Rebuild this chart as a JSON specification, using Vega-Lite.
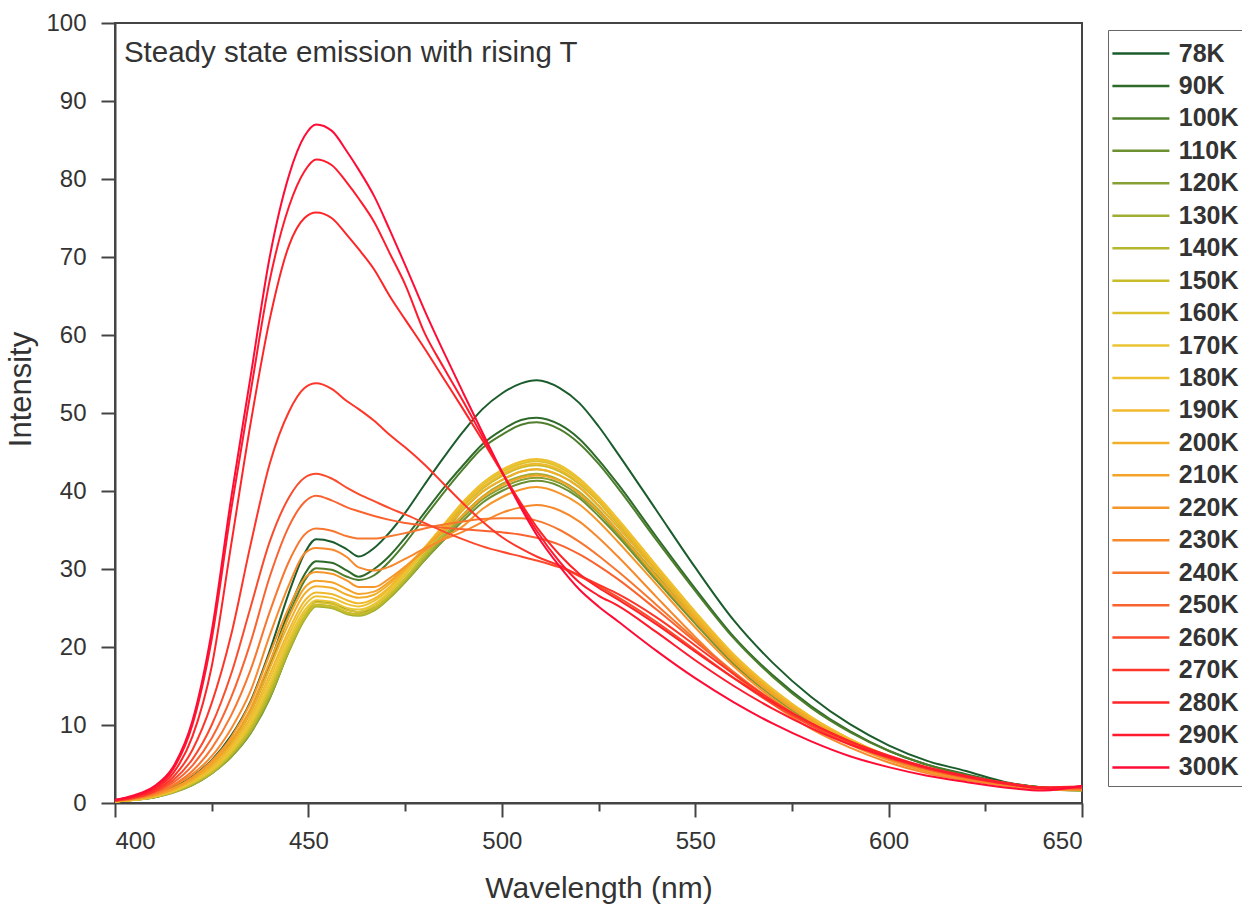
{
"$schema":"https://vega.github.io/schema/vega-lite/v6.json",
"width":967,"height":780,
"autosize":{"type":"none"},
"padding":{"left":115,"top":23,"right":160,"bottom":101},
"background":"white",
"config":{"view":{"stroke":"#444","strokeWidth":2},"font":"Liberation Sans"},
"data":{"values":[
{"s":"78K","x":400,"y":0.3},{"s":"78K","x":405,"y":0.5},{"s":"78K","x":410,"y":1.0},{"s":"78K","x":415,"y":2.0},{"s":"78K","x":420,"y":3.4},{"s":"78K","x":425,"y":5.5},{"s":"78K","x":430,"y":8.6},{"s":"78K","x":435,"y":13.0},{"s":"78K","x":440,"y":19.5},{"s":"78K","x":445,"y":27.0},{"s":"78K","x":449,"y":32.0},{"s":"78K","x":452,"y":33.8},{"s":"78K","x":456,"y":33.5},{"s":"78K","x":460,"y":32.5},{"s":"78K","x":463,"y":31.6},{"s":"78K","x":467,"y":32.7},{"s":"78K","x":471,"y":34.7},{"s":"78K","x":475,"y":37.2},{"s":"78K","x":480,"y":40.8},{"s":"78K","x":485,"y":44.3},{"s":"78K","x":490,"y":47.6},{"s":"78K","x":495,"y":50.5},{"s":"78K","x":500,"y":52.5},{"s":"78K","x":505,"y":53.8},{"s":"78K","x":509,"y":54.2},{"s":"78K","x":515,"y":53.2},{"s":"78K","x":520,"y":51.3},{"s":"78K","x":525,"y":48.3},{"s":"78K","x":530,"y":44.8},{"s":"78K","x":540,"y":37.5},{"s":"78K","x":550,"y":30.2},{"s":"78K","x":560,"y":23.4},{"s":"78K","x":570,"y":18.0},{"s":"78K","x":580,"y":13.6},{"s":"78K","x":590,"y":10.1},{"s":"78K","x":600,"y":7.4},{"s":"78K","x":610,"y":5.4},{"s":"78K","x":620,"y":4.1},{"s":"78K","x":630,"y":2.7},{"s":"78K","x":640,"y":2.0},{"s":"78K","x":650,"y":1.8},
{"s":"90K","x":400,"y":0.2},{"s":"90K","x":405,"y":0.5},{"s":"90K","x":410,"y":1.0},{"s":"90K","x":415,"y":1.8},{"s":"90K","x":420,"y":3.1},{"s":"90K","x":425,"y":5.0},{"s":"90K","x":430,"y":7.9},{"s":"90K","x":435,"y":11.9},{"s":"90K","x":440,"y":17.9},{"s":"90K","x":445,"y":24.8},{"s":"90K","x":449,"y":29.3},{"s":"90K","x":452,"y":31.0},{"s":"90K","x":456,"y":30.8},{"s":"90K","x":460,"y":29.8},{"s":"90K","x":463,"y":29.0},{"s":"90K","x":467,"y":30.0},{"s":"90K","x":471,"y":31.7},{"s":"90K","x":475,"y":34.0},{"s":"90K","x":480,"y":37.2},{"s":"90K","x":485,"y":40.4},{"s":"90K","x":490,"y":43.3},{"s":"90K","x":495,"y":46.0},{"s":"90K","x":500,"y":47.8},{"s":"90K","x":505,"y":49.1},{"s":"90K","x":509,"y":49.4},{"s":"90K","x":515,"y":48.5},{"s":"90K","x":520,"y":46.7},{"s":"90K","x":525,"y":44.0},{"s":"90K","x":530,"y":40.9},{"s":"90K","x":540,"y":34.1},{"s":"90K","x":550,"y":27.5},{"s":"90K","x":560,"y":21.3},{"s":"90K","x":570,"y":16.4},{"s":"90K","x":580,"y":12.4},{"s":"90K","x":590,"y":9.2},{"s":"90K","x":600,"y":6.7},{"s":"90K","x":610,"y":4.9},{"s":"90K","x":620,"y":3.7},{"s":"90K","x":630,"y":2.6},{"s":"90K","x":640,"y":2.0},{"s":"90K","x":650,"y":1.8},
{"s":"100K","x":400,"y":0.2},{"s":"100K","x":405,"y":0.5},{"s":"100K","x":410,"y":0.9},{"s":"100K","x":415,"y":1.7},{"s":"100K","x":420,"y":3.0},{"s":"100K","x":425,"y":4.9},{"s":"100K","x":430,"y":7.6},{"s":"100K","x":435,"y":11.6},{"s":"100K","x":440,"y":17.4},{"s":"100K","x":445,"y":24.1},{"s":"100K","x":449,"y":28.5},{"s":"100K","x":452,"y":30.1},{"s":"100K","x":456,"y":29.9},{"s":"100K","x":460,"y":29.0},{"s":"100K","x":463,"y":28.6},{"s":"100K","x":467,"y":29.2},{"s":"100K","x":471,"y":31.0},{"s":"100K","x":475,"y":33.3},{"s":"100K","x":480,"y":36.6},{"s":"100K","x":485,"y":39.8},{"s":"100K","x":490,"y":42.8},{"s":"100K","x":495,"y":45.5},{"s":"100K","x":500,"y":47.2},{"s":"100K","x":505,"y":48.5},{"s":"100K","x":509,"y":48.8},{"s":"100K","x":515,"y":47.9},{"s":"100K","x":520,"y":46.1},{"s":"100K","x":525,"y":43.5},{"s":"100K","x":530,"y":40.4},{"s":"100K","x":540,"y":33.7},{"s":"100K","x":550,"y":27.2},{"s":"100K","x":560,"y":21.1},{"s":"100K","x":570,"y":16.2},{"s":"100K","x":580,"y":12.2},{"s":"100K","x":590,"y":9.1},{"s":"100K","x":600,"y":6.7},{"s":"100K","x":610,"y":4.9},{"s":"100K","x":620,"y":3.6},{"s":"100K","x":630,"y":2.6},{"s":"100K","x":640,"y":2.0},{"s":"100K","x":650,"y":1.8},
{"s":"110K","x":400,"y":0.2},{"s":"110K","x":405,"y":0.4},{"s":"110K","x":410,"y":0.7},{"s":"110K","x":415,"y":1.4},{"s":"110K","x":420,"y":2.3},{"s":"110K","x":425,"y":3.8},{"s":"110K","x":430,"y":5.9},{"s":"110K","x":435,"y":8.9},{"s":"110K","x":440,"y":13.4},{"s":"110K","x":445,"y":19.6},{"s":"110K","x":449,"y":23.8},{"s":"110K","x":452,"y":25.8},{"s":"110K","x":456,"y":25.6},{"s":"110K","x":460,"y":24.8},{"s":"110K","x":463,"y":24.5},{"s":"110K","x":467,"y":25.0},{"s":"110K","x":471,"y":26.5},{"s":"110K","x":475,"y":28.4},{"s":"110K","x":480,"y":31.1},{"s":"110K","x":485,"y":33.7},{"s":"110K","x":490,"y":36.2},{"s":"110K","x":495,"y":38.5},{"s":"110K","x":500,"y":40.0},{"s":"110K","x":505,"y":41.0},{"s":"110K","x":509,"y":41.3},{"s":"110K","x":515,"y":40.6},{"s":"110K","x":520,"y":39.1},{"s":"110K","x":525,"y":36.8},{"s":"110K","x":530,"y":34.2},{"s":"110K","x":540,"y":28.5},{"s":"110K","x":550,"y":23.0},{"s":"110K","x":560,"y":17.8},{"s":"110K","x":570,"y":13.7},{"s":"110K","x":580,"y":10.3},{"s":"110K","x":590,"y":7.7},{"s":"110K","x":600,"y":5.6},{"s":"110K","x":610,"y":4.1},{"s":"110K","x":620,"y":3.1},{"s":"110K","x":630,"y":2.3},{"s":"110K","x":640,"y":1.8},{"s":"110K","x":650,"y":1.6},
{"s":"120K","x":400,"y":0.2},{"s":"120K","x":405,"y":0.4},{"s":"120K","x":410,"y":0.7},{"s":"120K","x":415,"y":1.3},{"s":"120K","x":420,"y":2.3},{"s":"120K","x":425,"y":3.8},{"s":"120K","x":430,"y":5.9},{"s":"120K","x":435,"y":9.0},{"s":"120K","x":440,"y":13.5},{"s":"120K","x":445,"y":19.5},{"s":"120K","x":449,"y":23.6},{"s":"120K","x":452,"y":25.4},{"s":"120K","x":456,"y":25.2},{"s":"120K","x":460,"y":24.4},{"s":"120K","x":463,"y":24.2},{"s":"120K","x":467,"y":24.7},{"s":"120K","x":471,"y":26.3},{"s":"120K","x":475,"y":28.3},{"s":"120K","x":480,"y":31.1},{"s":"120K","x":485,"y":33.9},{"s":"120K","x":490,"y":36.6},{"s":"120K","x":495,"y":38.9},{"s":"120K","x":500,"y":40.4},{"s":"120K","x":505,"y":41.4},{"s":"120K","x":509,"y":41.7},{"s":"120K","x":515,"y":41.0},{"s":"120K","x":520,"y":39.4},{"s":"120K","x":525,"y":37.2},{"s":"120K","x":530,"y":34.5},{"s":"120K","x":540,"y":28.8},{"s":"120K","x":550,"y":23.2},{"s":"120K","x":560,"y":18.0},{"s":"120K","x":570,"y":13.8},{"s":"120K","x":580,"y":10.4},{"s":"120K","x":590,"y":7.8},{"s":"120K","x":600,"y":5.7},{"s":"120K","x":610,"y":4.2},{"s":"120K","x":620,"y":3.1},{"s":"120K","x":630,"y":2.4},{"s":"120K","x":640,"y":1.8},{"s":"120K","x":650,"y":1.6},
{"s":"130K","x":400,"y":0.2},{"s":"130K","x":405,"y":0.4},{"s":"130K","x":410,"y":0.7},{"s":"130K","x":415,"y":1.4},{"s":"130K","x":420,"y":2.4},{"s":"130K","x":425,"y":3.8},{"s":"130K","x":430,"y":6.0},{"s":"130K","x":435,"y":9.1},{"s":"130K","x":440,"y":13.7},{"s":"130K","x":445,"y":19.5},{"s":"130K","x":449,"y":23.5},{"s":"130K","x":452,"y":25.2},{"s":"130K","x":456,"y":25.0},{"s":"130K","x":460,"y":24.2},{"s":"130K","x":463,"y":24.0},{"s":"130K","x":467,"y":24.7},{"s":"130K","x":471,"y":26.3},{"s":"130K","x":475,"y":28.4},{"s":"130K","x":480,"y":31.3},{"s":"130K","x":485,"y":34.2},{"s":"130K","x":490,"y":37.0},{"s":"130K","x":495,"y":39.3},{"s":"130K","x":500,"y":40.9},{"s":"130K","x":505,"y":41.9},{"s":"130K","x":509,"y":42.2},{"s":"130K","x":515,"y":41.4},{"s":"130K","x":520,"y":39.9},{"s":"130K","x":525,"y":37.6},{"s":"130K","x":530,"y":34.9},{"s":"130K","x":540,"y":29.2},{"s":"130K","x":550,"y":23.5},{"s":"130K","x":560,"y":18.2},{"s":"130K","x":570,"y":14.0},{"s":"130K","x":580,"y":10.5},{"s":"130K","x":590,"y":7.9},{"s":"130K","x":600,"y":5.8},{"s":"130K","x":610,"y":4.2},{"s":"130K","x":620,"y":3.2},{"s":"130K","x":630,"y":2.4},{"s":"130K","x":640,"y":1.8},{"s":"130K","x":650,"y":1.6},
{"s":"140K","x":400,"y":0.2},{"s":"140K","x":405,"y":0.4},{"s":"140K","x":410,"y":0.8},{"s":"140K","x":415,"y":1.4},{"s":"140K","x":420,"y":2.4},{"s":"140K","x":425,"y":3.9},{"s":"140K","x":430,"y":6.2},{"s":"140K","x":435,"y":9.3},{"s":"140K","x":440,"y":14.0},{"s":"140K","x":445,"y":19.8},{"s":"140K","x":449,"y":23.7},{"s":"140K","x":452,"y":25.3},{"s":"140K","x":456,"y":25.1},{"s":"140K","x":460,"y":24.3},{"s":"140K","x":463,"y":24.1},{"s":"140K","x":467,"y":24.8},{"s":"140K","x":471,"y":26.5},{"s":"140K","x":475,"y":28.6},{"s":"140K","x":480,"y":31.6},{"s":"140K","x":485,"y":34.6},{"s":"140K","x":490,"y":37.6},{"s":"140K","x":495,"y":39.9},{"s":"140K","x":500,"y":41.4},{"s":"140K","x":505,"y":42.5},{"s":"140K","x":509,"y":42.8},{"s":"140K","x":515,"y":42.0},{"s":"140K","x":520,"y":40.5},{"s":"140K","x":525,"y":38.1},{"s":"140K","x":530,"y":35.4},{"s":"140K","x":540,"y":29.6},{"s":"140K","x":550,"y":23.8},{"s":"140K","x":560,"y":18.5},{"s":"140K","x":570,"y":14.2},{"s":"140K","x":580,"y":10.7},{"s":"140K","x":590,"y":8.0},{"s":"140K","x":600,"y":5.8},{"s":"140K","x":610,"y":4.3},{"s":"140K","x":620,"y":3.2},{"s":"140K","x":630,"y":2.4},{"s":"140K","x":640,"y":1.8},{"s":"140K","x":650,"y":1.7},
{"s":"150K","x":400,"y":0.2},{"s":"150K","x":405,"y":0.4},{"s":"150K","x":410,"y":0.8},{"s":"150K","x":415,"y":1.4},{"s":"150K","x":420,"y":2.5},{"s":"150K","x":425,"y":4.0},{"s":"150K","x":430,"y":6.3},{"s":"150K","x":435,"y":9.6},{"s":"150K","x":440,"y":14.4},{"s":"150K","x":445,"y":20.1},{"s":"150K","x":449,"y":23.9},{"s":"150K","x":452,"y":25.4},{"s":"150K","x":456,"y":25.2},{"s":"150K","x":460,"y":24.4},{"s":"150K","x":463,"y":24.2},{"s":"150K","x":467,"y":25.0},{"s":"150K","x":471,"y":26.7},{"s":"150K","x":475,"y":28.8},{"s":"150K","x":480,"y":31.9},{"s":"150K","x":485,"y":35.0},{"s":"150K","x":490,"y":38.0},{"s":"150K","x":495,"y":40.3},{"s":"150K","x":500,"y":41.9},{"s":"150K","x":505,"y":43.0},{"s":"150K","x":509,"y":43.3},{"s":"150K","x":515,"y":42.5},{"s":"150K","x":520,"y":40.9},{"s":"150K","x":525,"y":38.6},{"s":"150K","x":530,"y":35.8},{"s":"150K","x":540,"y":29.9},{"s":"150K","x":550,"y":24.1},{"s":"150K","x":560,"y":18.7},{"s":"150K","x":570,"y":14.4},{"s":"150K","x":580,"y":10.8},{"s":"150K","x":590,"y":8.1},{"s":"150K","x":600,"y":5.9},{"s":"150K","x":610,"y":4.3},{"s":"150K","x":620,"y":3.2},{"s":"150K","x":630,"y":2.5},{"s":"150K","x":640,"y":1.9},{"s":"150K","x":650,"y":1.7},
{"s":"160K","x":400,"y":0.2},{"s":"160K","x":405,"y":0.4},{"s":"160K","x":410,"y":0.8},{"s":"160K","x":415,"y":1.5},{"s":"160K","x":420,"y":2.6},{"s":"160K","x":425,"y":4.1},{"s":"160K","x":430,"y":6.5},{"s":"160K","x":435,"y":9.9},{"s":"160K","x":440,"y":14.8},{"s":"160K","x":445,"y":20.6},{"s":"160K","x":449,"y":24.3},{"s":"160K","x":452,"y":25.7},{"s":"160K","x":456,"y":25.5},{"s":"160K","x":460,"y":24.7},{"s":"160K","x":463,"y":24.5},{"s":"160K","x":467,"y":25.3},{"s":"160K","x":471,"y":27.0},{"s":"160K","x":475,"y":29.2},{"s":"160K","x":480,"y":32.3},{"s":"160K","x":485,"y":35.4},{"s":"160K","x":490,"y":38.4},{"s":"160K","x":495,"y":40.8},{"s":"160K","x":500,"y":42.4},{"s":"160K","x":505,"y":43.5},{"s":"160K","x":509,"y":43.8},{"s":"160K","x":515,"y":43.0},{"s":"160K","x":520,"y":41.4},{"s":"160K","x":525,"y":39.0},{"s":"160K","x":530,"y":36.2},{"s":"160K","x":540,"y":30.2},{"s":"160K","x":550,"y":24.4},{"s":"160K","x":560,"y":18.9},{"s":"160K","x":570,"y":14.5},{"s":"160K","x":580,"y":10.9},{"s":"160K","x":590,"y":8.2},{"s":"160K","x":600,"y":6.0},{"s":"160K","x":610,"y":4.4},{"s":"160K","x":620,"y":3.3},{"s":"160K","x":630,"y":2.5},{"s":"160K","x":640,"y":1.9},{"s":"160K","x":650,"y":1.7},
{"s":"170K","x":400,"y":0.2},{"s":"170K","x":405,"y":0.4},{"s":"170K","x":410,"y":0.8},{"s":"170K","x":415,"y":1.5},{"s":"170K","x":420,"y":2.7},{"s":"170K","x":425,"y":4.3},{"s":"170K","x":430,"y":6.7},{"s":"170K","x":435,"y":10.2},{"s":"170K","x":440,"y":15.3},{"s":"170K","x":445,"y":21.0},{"s":"170K","x":449,"y":24.7},{"s":"170K","x":452,"y":26.0},{"s":"170K","x":456,"y":25.8},{"s":"170K","x":460,"y":25.0},{"s":"170K","x":463,"y":24.8},{"s":"170K","x":467,"y":25.5},{"s":"170K","x":471,"y":27.2},{"s":"170K","x":475,"y":29.4},{"s":"170K","x":480,"y":32.5},{"s":"170K","x":485,"y":35.6},{"s":"170K","x":490,"y":38.6},{"s":"170K","x":495,"y":41.0},{"s":"170K","x":500,"y":42.6},{"s":"170K","x":505,"y":43.7},{"s":"170K","x":509,"y":44.0},{"s":"170K","x":515,"y":43.2},{"s":"170K","x":520,"y":41.6},{"s":"170K","x":525,"y":39.2},{"s":"170K","x":530,"y":36.4},{"s":"170K","x":540,"y":30.4},{"s":"170K","x":550,"y":24.5},{"s":"170K","x":560,"y":19.0},{"s":"170K","x":570,"y":14.6},{"s":"170K","x":580,"y":11.0},{"s":"170K","x":590,"y":8.2},{"s":"170K","x":600,"y":6.0},{"s":"170K","x":610,"y":4.4},{"s":"170K","x":620,"y":3.3},{"s":"170K","x":630,"y":2.5},{"s":"170K","x":640,"y":1.9},{"s":"170K","x":650,"y":1.7},
{"s":"180K","x":400,"y":0.2},{"s":"180K","x":405,"y":0.4},{"s":"180K","x":410,"y":0.8},{"s":"180K","x":415,"y":1.6},{"s":"180K","x":420,"y":2.8},{"s":"180K","x":425,"y":4.5},{"s":"180K","x":430,"y":7.0},{"s":"180K","x":435,"y":10.6},{"s":"180K","x":440,"y":15.9},{"s":"180K","x":445,"y":21.6},{"s":"180K","x":449,"y":25.3},{"s":"180K","x":452,"y":26.5},{"s":"180K","x":456,"y":26.3},{"s":"180K","x":460,"y":25.5},{"s":"180K","x":463,"y":25.2},{"s":"180K","x":467,"y":25.9},{"s":"180K","x":471,"y":27.5},{"s":"180K","x":475,"y":29.7},{"s":"180K","x":480,"y":32.7},{"s":"180K","x":485,"y":35.7},{"s":"180K","x":490,"y":38.6},{"s":"180K","x":495,"y":41.0},{"s":"180K","x":500,"y":42.7},{"s":"180K","x":505,"y":43.8},{"s":"180K","x":509,"y":44.1},{"s":"180K","x":515,"y":43.3},{"s":"180K","x":520,"y":41.6},{"s":"180K","x":525,"y":39.2},{"s":"180K","x":530,"y":36.4},{"s":"180K","x":540,"y":30.4},{"s":"180K","x":550,"y":24.5},{"s":"180K","x":560,"y":19.0},{"s":"180K","x":570,"y":14.6},{"s":"180K","x":580,"y":11.0},{"s":"180K","x":590,"y":8.2},{"s":"180K","x":600,"y":6.0},{"s":"180K","x":610,"y":4.4},{"s":"180K","x":620,"y":3.3},{"s":"180K","x":630,"y":2.5},{"s":"180K","x":640,"y":1.9},{"s":"180K","x":650,"y":1.7},
{"s":"190K","x":400,"y":0.2},{"s":"190K","x":405,"y":0.4},{"s":"190K","x":410,"y":0.9},{"s":"190K","x":415,"y":1.7},{"s":"190K","x":420,"y":2.9},{"s":"190K","x":425,"y":4.6},{"s":"190K","x":430,"y":7.3},{"s":"190K","x":435,"y":11.0},{"s":"190K","x":440,"y":16.5},{"s":"190K","x":445,"y":22.2},{"s":"190K","x":449,"y":25.9},{"s":"190K","x":452,"y":27.0},{"s":"190K","x":456,"y":26.8},{"s":"190K","x":460,"y":26.0},{"s":"190K","x":463,"y":25.6},{"s":"190K","x":467,"y":26.2},{"s":"190K","x":471,"y":27.7},{"s":"190K","x":475,"y":29.8},{"s":"190K","x":480,"y":32.7},{"s":"190K","x":485,"y":35.5},{"s":"190K","x":490,"y":38.2},{"s":"190K","x":495,"y":40.5},{"s":"190K","x":500,"y":42.1},{"s":"190K","x":505,"y":43.2},{"s":"190K","x":509,"y":43.5},{"s":"190K","x":515,"y":42.7},{"s":"190K","x":520,"y":41.1},{"s":"190K","x":525,"y":38.8},{"s":"190K","x":530,"y":36.0},{"s":"190K","x":540,"y":30.1},{"s":"190K","x":550,"y":24.2},{"s":"190K","x":560,"y":18.8},{"s":"190K","x":570,"y":14.4},{"s":"190K","x":580,"y":10.9},{"s":"190K","x":590,"y":8.1},{"s":"190K","x":600,"y":5.9},{"s":"190K","x":610,"y":4.4},{"s":"190K","x":620,"y":3.3},{"s":"190K","x":630,"y":2.5},{"s":"190K","x":640,"y":1.9},{"s":"190K","x":650,"y":1.7},
{"s":"200K","x":400,"y":0.2},{"s":"200K","x":405,"y":0.5},{"s":"200K","x":410,"y":0.9},{"s":"200K","x":415,"y":1.7},{"s":"200K","x":420,"y":3.0},{"s":"200K","x":425,"y":4.9},{"s":"200K","x":430,"y":7.6},{"s":"200K","x":435,"y":11.6},{"s":"200K","x":440,"y":17.3},{"s":"200K","x":445,"y":23.1},{"s":"200K","x":449,"y":26.8},{"s":"200K","x":452,"y":27.8},{"s":"200K","x":456,"y":27.6},{"s":"200K","x":460,"y":26.7},{"s":"200K","x":463,"y":26.3},{"s":"200K","x":467,"y":26.7},{"s":"200K","x":471,"y":28.1},{"s":"200K","x":475,"y":30.0},{"s":"200K","x":480,"y":32.7},{"s":"200K","x":485,"y":35.2},{"s":"200K","x":490,"y":37.6},{"s":"200K","x":495,"y":39.9},{"s":"200K","x":500,"y":41.4},{"s":"200K","x":505,"y":42.5},{"s":"200K","x":509,"y":42.8},{"s":"200K","x":515,"y":42.0},{"s":"200K","x":520,"y":40.5},{"s":"200K","x":525,"y":38.1},{"s":"200K","x":530,"y":35.4},{"s":"200K","x":540,"y":29.6},{"s":"200K","x":550,"y":23.8},{"s":"200K","x":560,"y":18.5},{"s":"200K","x":570,"y":14.2},{"s":"200K","x":580,"y":10.7},{"s":"200K","x":590,"y":8.0},{"s":"200K","x":600,"y":5.8},{"s":"200K","x":610,"y":4.3},{"s":"200K","x":620,"y":3.2},{"s":"200K","x":630,"y":2.4},{"s":"200K","x":640,"y":1.9},{"s":"200K","x":650,"y":1.7},
{"s":"210K","x":400,"y":0.2},{"s":"210K","x":405,"y":0.5},{"s":"210K","x":410,"y":1.0},{"s":"210K","x":415,"y":1.8},{"s":"210K","x":420,"y":3.1},{"s":"210K","x":425,"y":5.1},{"s":"210K","x":430,"y":8.0},{"s":"210K","x":435,"y":12.1},{"s":"210K","x":440,"y":18.1},{"s":"210K","x":445,"y":23.9},{"s":"210K","x":449,"y":27.6},{"s":"210K","x":452,"y":28.5},{"s":"210K","x":456,"y":28.3},{"s":"210K","x":460,"y":27.4},{"s":"210K","x":463,"y":26.8},{"s":"210K","x":467,"y":27.1},{"s":"210K","x":471,"y":28.4},{"s":"210K","x":475,"y":30.2},{"s":"210K","x":480,"y":32.6},{"s":"210K","x":485,"y":34.9},{"s":"210K","x":490,"y":36.9},{"s":"210K","x":495,"y":39.2},{"s":"210K","x":500,"y":40.7},{"s":"210K","x":505,"y":41.7},{"s":"210K","x":509,"y":42.0},{"s":"210K","x":515,"y":41.3},{"s":"210K","x":520,"y":39.7},{"s":"210K","x":525,"y":37.4},{"s":"210K","x":530,"y":34.8},{"s":"210K","x":540,"y":29.0},{"s":"210K","x":550,"y":23.4},{"s":"210K","x":560,"y":18.1},{"s":"210K","x":570,"y":13.9},{"s":"210K","x":580,"y":10.5},{"s":"210K","x":590,"y":7.8},{"s":"210K","x":600,"y":5.7},{"s":"210K","x":610,"y":4.2},{"s":"210K","x":620,"y":3.2},{"s":"210K","x":630,"y":2.4},{"s":"210K","x":640,"y":1.8},{"s":"210K","x":650,"y":1.7},
{"s":"220K","x":400,"y":0.3},{"s":"220K","x":405,"y":0.5},{"s":"220K","x":410,"y":1.0},{"s":"220K","x":415,"y":1.9},{"s":"220K","x":420,"y":3.3},{"s":"220K","x":425,"y":5.4},{"s":"220K","x":430,"y":8.4},{"s":"220K","x":435,"y":12.8},{"s":"220K","x":440,"y":19.1},{"s":"220K","x":445,"y":25.1},{"s":"220K","x":449,"y":28.8},{"s":"220K","x":452,"y":29.6},{"s":"220K","x":456,"y":29.4},{"s":"220K","x":460,"y":28.5},{"s":"220K","x":463,"y":27.7},{"s":"220K","x":467,"y":27.7},{"s":"220K","x":471,"y":28.8},{"s":"220K","x":475,"y":30.3},{"s":"220K","x":480,"y":32.3},{"s":"220K","x":485,"y":34.0},{"s":"220K","x":490,"y":35.5},{"s":"220K","x":495,"y":37.7},{"s":"220K","x":500,"y":39.2},{"s":"220K","x":505,"y":40.2},{"s":"220K","x":509,"y":40.5},{"s":"220K","x":515,"y":39.7},{"s":"220K","x":520,"y":38.3},{"s":"220K","x":525,"y":36.1},{"s":"220K","x":530,"y":33.5},{"s":"220K","x":540,"y":28.0},{"s":"220K","x":550,"y":22.5},{"s":"220K","x":560,"y":17.5},{"s":"220K","x":570,"y":13.4},{"s":"220K","x":580,"y":10.1},{"s":"220K","x":590,"y":7.5},{"s":"220K","x":600,"y":5.5},{"s":"220K","x":610,"y":4.0},{"s":"220K","x":620,"y":3.0},{"s":"220K","x":630,"y":2.3},{"s":"220K","x":640,"y":1.8},{"s":"220K","x":650,"y":1.7},
{"s":"230K","x":400,"y":0.3},{"s":"230K","x":405,"y":0.6},{"s":"230K","x":410,"y":1.1},{"s":"230K","x":415,"y":2.2},{"s":"230K","x":420,"y":3.7},{"s":"230K","x":425,"y":6.0},{"s":"230K","x":430,"y":9.5},{"s":"230K","x":435,"y":14.3},{"s":"230K","x":440,"y":21.5},{"s":"230K","x":445,"y":28.0},{"s":"230K","x":449,"y":32.0},{"s":"230K","x":452,"y":32.7},{"s":"230K","x":456,"y":32.5},{"s":"230K","x":460,"y":31.5},{"s":"230K","x":463,"y":30.2},{"s":"230K","x":467,"y":29.8},{"s":"230K","x":471,"y":30.3},{"s":"230K","x":475,"y":31.3},{"s":"230K","x":480,"y":32.6},{"s":"230K","x":485,"y":33.8},{"s":"230K","x":490,"y":34.8},{"s":"230K","x":495,"y":36.0},{"s":"230K","x":500,"y":37.2},{"s":"230K","x":505,"y":37.9},{"s":"230K","x":509,"y":38.2},{"s":"230K","x":515,"y":37.5},{"s":"230K","x":520,"y":36.1},{"s":"230K","x":525,"y":34.0},{"s":"230K","x":530,"y":31.6},{"s":"230K","x":540,"y":26.4},{"s":"230K","x":550,"y":21.3},{"s":"230K","x":560,"y":16.5},{"s":"230K","x":570,"y":12.7},{"s":"230K","x":580,"y":9.5},{"s":"230K","x":590,"y":7.1},{"s":"230K","x":600,"y":5.2},{"s":"230K","x":610,"y":3.8},{"s":"230K","x":620,"y":2.9},{"s":"230K","x":630,"y":2.2},{"s":"230K","x":640,"y":1.7},{"s":"230K","x":650,"y":1.7},
{"s":"240K","x":400,"y":0.3},{"s":"240K","x":405,"y":0.6},{"s":"240K","x":410,"y":1.2},{"s":"240K","x":415,"y":2.3},{"s":"240K","x":420,"y":4.1},{"s":"240K","x":425,"y":7.0},{"s":"240K","x":430,"y":11.2},{"s":"240K","x":435,"y":17.0},{"s":"240K","x":440,"y":24.5},{"s":"240K","x":445,"y":31.0},{"s":"240K","x":449,"y":34.4},{"s":"240K","x":452,"y":35.2},{"s":"240K","x":456,"y":34.9},{"s":"240K","x":460,"y":34.2},{"s":"240K","x":463,"y":33.9},{"s":"240K","x":467,"y":33.9},{"s":"240K","x":471,"y":34.2},{"s":"240K","x":475,"y":34.6},{"s":"240K","x":480,"y":35.2},{"s":"240K","x":485,"y":35.7},{"s":"240K","x":490,"y":36.1},{"s":"240K","x":495,"y":36.4},{"s":"240K","x":500,"y":36.5},{"s":"240K","x":505,"y":36.5},{"s":"240K","x":509,"y":36.2},{"s":"240K","x":515,"y":35.0},{"s":"240K","x":520,"y":33.5},{"s":"240K","x":525,"y":31.7},{"s":"240K","x":530,"y":29.7},{"s":"240K","x":540,"y":25.4},{"s":"240K","x":550,"y":21.0},{"s":"240K","x":560,"y":16.8},{"s":"240K","x":570,"y":13.1},{"s":"240K","x":580,"y":10.0},{"s":"240K","x":590,"y":7.6},{"s":"240K","x":600,"y":5.7},{"s":"240K","x":610,"y":4.3},{"s":"240K","x":620,"y":3.2},{"s":"240K","x":630,"y":2.4},{"s":"240K","x":640,"y":1.9},{"s":"240K","x":650,"y":1.9},
{"s":"250K","x":400,"y":0.3},{"s":"250K","x":405,"y":0.6},{"s":"250K","x":410,"y":1.3},{"s":"250K","x":415,"y":2.6},{"s":"250K","x":420,"y":4.8},{"s":"250K","x":425,"y":8.3},{"s":"250K","x":430,"y":13.5},{"s":"250K","x":435,"y":20.5},{"s":"250K","x":440,"y":29.0},{"s":"250K","x":445,"y":35.5},{"s":"250K","x":449,"y":38.6},{"s":"250K","x":452,"y":39.4},{"s":"250K","x":456,"y":38.8},{"s":"250K","x":460,"y":37.9},{"s":"250K","x":463,"y":37.4},{"s":"250K","x":467,"y":36.8},{"s":"250K","x":471,"y":36.3},{"s":"250K","x":475,"y":35.9},{"s":"250K","x":480,"y":35.6},{"s":"250K","x":485,"y":35.3},{"s":"250K","x":490,"y":35.1},{"s":"250K","x":495,"y":34.9},{"s":"250K","x":500,"y":34.7},{"s":"250K","x":505,"y":34.4},{"s":"250K","x":509,"y":34.0},{"s":"250K","x":515,"y":33.1},{"s":"250K","x":520,"y":31.9},{"s":"250K","x":525,"y":30.4},{"s":"250K","x":530,"y":28.7},{"s":"250K","x":540,"y":24.8},{"s":"250K","x":550,"y":20.7},{"s":"250K","x":560,"y":16.7},{"s":"250K","x":570,"y":13.1},{"s":"250K","x":580,"y":10.1},{"s":"250K","x":590,"y":7.7},{"s":"250K","x":600,"y":5.8},{"s":"250K","x":610,"y":4.4},{"s":"250K","x":620,"y":3.3},{"s":"250K","x":630,"y":2.5},{"s":"250K","x":640,"y":1.9},{"s":"250K","x":650,"y":1.9},
{"s":"260K","x":400,"y":0.3},{"s":"260K","x":405,"y":0.7},{"s":"260K","x":410,"y":1.4},{"s":"260K","x":415,"y":2.9},{"s":"260K","x":420,"y":5.6},{"s":"260K","x":425,"y":10.0},{"s":"260K","x":430,"y":16.5},{"s":"260K","x":435,"y":25.0},{"s":"260K","x":440,"y":33.5},{"s":"260K","x":445,"y":39.2},{"s":"260K","x":449,"y":41.7},{"s":"260K","x":452,"y":42.2},{"s":"260K","x":456,"y":41.6},{"s":"260K","x":460,"y":40.4},{"s":"260K","x":463,"y":39.6},{"s":"260K","x":467,"y":38.7},{"s":"260K","x":471,"y":37.8},{"s":"260K","x":475,"y":37.0},{"s":"260K","x":480,"y":35.9},{"s":"260K","x":485,"y":34.8},{"s":"260K","x":490,"y":33.8},{"s":"260K","x":495,"y":32.9},{"s":"260K","x":500,"y":32.2},{"s":"260K","x":505,"y":31.6},{"s":"260K","x":509,"y":31.1},{"s":"260K","x":515,"y":30.2},{"s":"260K","x":520,"y":29.1},{"s":"260K","x":525,"y":27.8},{"s":"260K","x":530,"y":26.4},{"s":"260K","x":540,"y":23.2},{"s":"260K","x":550,"y":19.6},{"s":"260K","x":560,"y":16.0},{"s":"260K","x":570,"y":12.7},{"s":"260K","x":580,"y":9.9},{"s":"260K","x":590,"y":7.6},{"s":"260K","x":600,"y":5.8},{"s":"260K","x":610,"y":4.4},{"s":"260K","x":620,"y":3.3},{"s":"260K","x":630,"y":2.5},{"s":"260K","x":640,"y":1.9},{"s":"260K","x":650,"y":1.9},
{"s":"270K","x":400,"y":0.3},{"s":"270K","x":405,"y":0.7},{"s":"270K","x":410,"y":1.5},{"s":"270K","x":415,"y":3.3},{"s":"270K","x":420,"y":6.8},{"s":"270K","x":425,"y":12.8},{"s":"270K","x":430,"y":21.5},{"s":"270K","x":435,"y":33.0},{"s":"270K","x":440,"y":43.5},{"s":"270K","x":445,"y":50.2},{"s":"270K","x":449,"y":53.2},{"s":"270K","x":452,"y":53.8},{"s":"270K","x":456,"y":53.1},{"s":"270K","x":460,"y":51.5},{"s":"270K","x":463,"y":50.5},{"s":"270K","x":467,"y":49.0},{"s":"270K","x":471,"y":47.2},{"s":"270K","x":475,"y":45.6},{"s":"270K","x":480,"y":43.4},{"s":"270K","x":485,"y":40.9},{"s":"270K","x":490,"y":38.4},{"s":"270K","x":495,"y":36.1},{"s":"270K","x":500,"y":34.1},{"s":"270K","x":505,"y":32.6},{"s":"270K","x":509,"y":31.6},{"s":"270K","x":515,"y":30.4},{"s":"270K","x":520,"y":29.2},{"s":"270K","x":525,"y":28.0},{"s":"270K","x":530,"y":26.8},{"s":"270K","x":540,"y":23.8},{"s":"270K","x":550,"y":20.2},{"s":"270K","x":560,"y":16.5},{"s":"270K","x":570,"y":13.1},{"s":"270K","x":580,"y":10.2},{"s":"270K","x":590,"y":7.9},{"s":"270K","x":600,"y":6.0},{"s":"270K","x":610,"y":4.5},{"s":"270K","x":620,"y":3.4},{"s":"270K","x":630,"y":2.6},{"s":"270K","x":640,"y":2.0},{"s":"270K","x":650,"y":2.0},
{"s":"280K","x":400,"y":0.4},{"s":"280K","x":405,"y":0.8},{"s":"280K","x":410,"y":1.7},{"s":"280K","x":415,"y":3.8},{"s":"280K","x":420,"y":8.5},{"s":"280K","x":425,"y":17.5},{"s":"280K","x":430,"y":33.0},{"s":"280K","x":435,"y":48.5},{"s":"280K","x":440,"y":62.0},{"s":"280K","x":445,"y":71.5},{"s":"280K","x":449,"y":75.0},{"s":"280K","x":452,"y":75.7},{"s":"280K","x":456,"y":75.0},{"s":"280K","x":460,"y":72.8},{"s":"280K","x":463,"y":71.0},{"s":"280K","x":467,"y":68.4},{"s":"280K","x":471,"y":65.0},{"s":"280K","x":475,"y":62.0},{"s":"280K","x":480,"y":58.3},{"s":"280K","x":485,"y":54.4},{"s":"280K","x":490,"y":50.5},{"s":"280K","x":495,"y":46.5},{"s":"280K","x":500,"y":42.4},{"s":"280K","x":505,"y":38.4},{"s":"280K","x":509,"y":35.4},{"s":"280K","x":515,"y":31.8},{"s":"280K","x":520,"y":29.4},{"s":"280K","x":525,"y":27.6},{"s":"280K","x":530,"y":26.1},{"s":"280K","x":540,"y":22.9},{"s":"280K","x":550,"y":19.4},{"s":"280K","x":560,"y":16.0},{"s":"280K","x":570,"y":12.9},{"s":"280K","x":580,"y":10.2},{"s":"280K","x":590,"y":7.9},{"s":"280K","x":600,"y":6.1},{"s":"280K","x":610,"y":4.6},{"s":"280K","x":620,"y":3.5},{"s":"280K","x":630,"y":2.6},{"s":"280K","x":640,"y":2.0},{"s":"280K","x":650,"y":2.1},
{"s":"290K","x":400,"y":0.4},{"s":"290K","x":405,"y":0.9},{"s":"290K","x":410,"y":1.9},{"s":"290K","x":415,"y":4.3},{"s":"290K","x":420,"y":10.0},{"s":"290K","x":425,"y":21.0},{"s":"290K","x":430,"y":37.5},{"s":"290K","x":435,"y":52.5},{"s":"290K","x":440,"y":67.0},{"s":"290K","x":445,"y":76.5},{"s":"290K","x":449,"y":81.0},{"s":"290K","x":452,"y":82.5},{"s":"290K","x":456,"y":81.8},{"s":"290K","x":460,"y":79.5},{"s":"290K","x":463,"y":77.5},{"s":"290K","x":467,"y":74.5},{"s":"290K","x":471,"y":70.5},{"s":"290K","x":475,"y":66.5},{"s":"290K","x":480,"y":60.3},{"s":"290K","x":485,"y":55.8},{"s":"290K","x":490,"y":51.5},{"s":"290K","x":495,"y":47.0},{"s":"290K","x":500,"y":42.5},{"s":"290K","x":505,"y":38.1},{"s":"290K","x":509,"y":34.9},{"s":"290K","x":515,"y":30.9},{"s":"290K","x":520,"y":28.3},{"s":"290K","x":525,"y":26.6},{"s":"290K","x":530,"y":25.3},{"s":"290K","x":540,"y":21.9},{"s":"290K","x":550,"y":18.3},{"s":"290K","x":560,"y":15.0},{"s":"290K","x":570,"y":12.1},{"s":"290K","x":580,"y":9.6},{"s":"290K","x":590,"y":7.5},{"s":"290K","x":600,"y":5.9},{"s":"290K","x":610,"y":4.5},{"s":"290K","x":620,"y":3.4},{"s":"290K","x":630,"y":2.5},{"s":"290K","x":640,"y":1.9},{"s":"290K","x":650,"y":2.1},
{"s":"300K","x":400,"y":0.4},{"s":"300K","x":405,"y":1.0},{"s":"300K","x":410,"y":2.1},{"s":"300K","x":415,"y":4.6},{"s":"300K","x":420,"y":10.5},{"s":"300K","x":425,"y":22.0},{"s":"300K","x":430,"y":39.0},{"s":"300K","x":435,"y":54.5},{"s":"300K","x":440,"y":70.0},{"s":"300K","x":445,"y":80.5},{"s":"300K","x":449,"y":85.5},{"s":"300K","x":452,"y":87.0},{"s":"300K","x":456,"y":86.2},{"s":"300K","x":460,"y":83.5},{"s":"300K","x":463,"y":81.2},{"s":"300K","x":467,"y":77.8},{"s":"300K","x":471,"y":73.5},{"s":"300K","x":475,"y":69.0},{"s":"300K","x":480,"y":63.2},{"s":"300K","x":485,"y":57.8},{"s":"300K","x":490,"y":52.6},{"s":"300K","x":495,"y":47.5},{"s":"300K","x":500,"y":42.5},{"s":"300K","x":505,"y":37.8},{"s":"300K","x":509,"y":34.4},{"s":"300K","x":515,"y":30.3},{"s":"300K","x":520,"y":27.4},{"s":"300K","x":525,"y":25.2},{"s":"300K","x":530,"y":23.3},{"s":"300K","x":540,"y":19.5},{"s":"300K","x":550,"y":16.0},{"s":"300K","x":560,"y":12.9},{"s":"300K","x":570,"y":10.2},{"s":"300K","x":580,"y":7.9},{"s":"300K","x":590,"y":6.0},{"s":"300K","x":600,"y":4.6},{"s":"300K","x":610,"y":3.5},{"s":"300K","x":620,"y":2.7},{"s":"300K","x":630,"y":2.0},{"s":"300K","x":640,"y":1.6},{"s":"300K","x":650,"y":2.2}
]},
"layer":[
{"mark":{"type":"line","strokeWidth":2,"interpolate":"monotone"},
"encoding":{
"x":{"field":"x","type":"quantitative","scale":{"domain":[400,650],"nice":false,"zero":false},
"axis":{"values":[400,425,450,475,500,525,550,575,600,625,650],"labelExpr":"datum.value % 50 === 0 ? datum.label : ''","labelOverlap":false,"tickSize":{"condition":{"test":"datum.value % 50 !== 0","value":8},"value":14},"labelFontSize":24,"labelFont":"Liberation Sans","labelColor":"#333","labelPadding":12,"title":"Wavelength (nm)","titleFont":"Liberation Sans","titleFontSize":30,"titleFontWeight":"normal","titleColor":"#333","titlePadding":20,"domainColor":"#444","domainWidth":2,"tickColor":"#444","tickWidth":2,"grid":false}},
"y":{"field":"y","type":"quantitative","scale":{"domain":[0,100],"nice":false},
"axis":{"values":[0,5,10,15,20,25,30,35,40,45,50,55,60,65,70,75,80,85,90,95,100],"labelExpr":"datum.value % 10 === 0 ? datum.label : ''","labelOverlap":false,"tickSize":{"condition":{"test":"datum.value % 10 !== 0","value":8},"value":14},"labelFontSize":24,"labelFont":"Liberation Sans","labelColor":"#333","labelPadding":15,"title":"Intensity","titleFont":"Liberation Sans","titleFontSize":31,"titleFontWeight":"normal","titleColor":"#333","titlePadding":8,"titleY":366,"domainColor":"#444","domainWidth":2,"tickColor":"#444","tickWidth":2,"grid":false}},
"color":{"field":"s","type":"nominal",
"scale":{"domain":["78K","90K","100K","110K","120K","130K","140K","150K","160K","170K","180K","190K","200K","210K","220K","230K","240K","250K","260K","270K","280K","290K","300K"],
"range":["#1b5c2c","#2e6b2a","#4e7e2b","#6c8f30","#86a033","#9fae32","#b5b72d","#c8bc2b","#dbc12e","#eac533","#eec133","#f0b92c","#f2ae28","#f4a328","#f6962a","#f7892c","#f8772e","#fa632f","#fb4b2c","#fd3629","#fe2528","#ff1a2e","#ff0c36"]},
"legend":{"orient":"none","legendX":993,"legendY":7,"title":null,"symbolType":"M-1.667,0H1.667","symbolSize":1170,"symbolStrokeWidth":2.5,"symbolOffset":9.4,"labelFontSize":25,"labelFontWeight":"bold","labelFont":"Liberation Sans","labelColor":"#333","labelOffset":19.4,"rowPadding":0.45,"padding":5,"strokeColor":"#666","fillColor":"white","labelLimit":200}}
}},
{"data":{"values":[{"x":402.3,"y":96.2,"label":"Steady state emission with rising T"}]},
"mark":{"type":"text","align":"left","baseline":"middle","fontSize":29.5,"font":"Liberation Sans","color":"#333"},
"encoding":{"x":{"field":"x","type":"quantitative"},"y":{"field":"y","type":"quantitative"},"text":{"field":"label"}}}
]
}
